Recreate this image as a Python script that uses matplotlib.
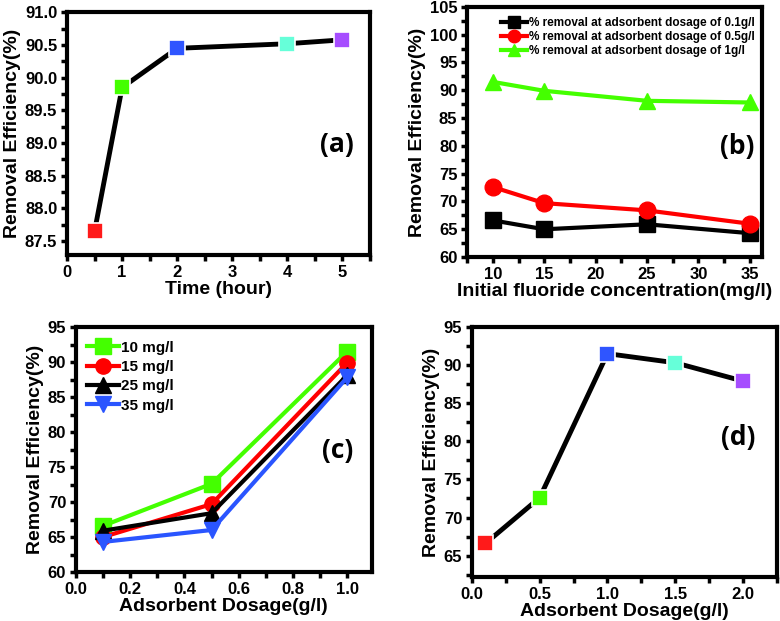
import matplotlib.pyplot as plt
from matplotlib.ticker import MultipleLocator

plt.rcParams['font.family'] = ['Liberation Sans', 'DejaVu Sans']
plt.rcParams['font.weight'] = 'bold'

# (a) time study
time_h = [0.5, 1, 2, 4, 5]
eff_time = [87.65, 89.85, 90.45, 90.52, 90.58]

# (b) initial fluoride concentration
conc = [10, 15, 25, 35]
eff_01 = [66.6, 65.0, 65.9, 64.3]
eff_05 = [72.6, 69.7, 68.4, 66.0]
eff_1 = [91.5, 89.9, 88.1, 87.8]

# (c) dosage for each concentration
dose_c = [0.1, 0.5, 1.0]
eff_10 = [66.6, 72.6, 91.5]
eff_15 = [65.0, 69.7, 89.9]
eff_25 = [65.9, 68.4, 88.1]
eff_35 = [64.3, 66.0, 87.8]

# (d) adsorbent dosage
dose_d = [0.1, 0.5, 1.0, 1.5, 2.0]
eff_dose = [66.6, 72.6, 91.5, 90.3, 87.9]

sq_colors = ['#ff1a1a', '#44ff00', '#2f55ff', '#66ffd9', '#a64dff']


def style_ax(ax, xlabel, ylabel, xmaj, xmin, ymaj, ymin):
    for s in ax.spines.values():
        s.set_linewidth(3)
    ax.xaxis.set_major_locator(MultipleLocator(xmaj))
    ax.xaxis.set_minor_locator(MultipleLocator(xmin))
    ax.yaxis.set_major_locator(MultipleLocator(ymaj))
    ax.yaxis.set_minor_locator(MultipleLocator(ymin))
    ax.tick_params(which='both', direction='out', length=4, width=2.5,
                   top=False, right=False, labelsize=12, pad=3)
    for lab in ax.get_xticklabels() + ax.get_yticklabels():
        lab.set_fontweight('bold')
    ax.set_xlabel(xlabel, fontsize=14, fontweight='bold', labelpad=1)
    ax.set_ylabel(ylabel, fontsize=14, fontweight='bold', labelpad=3)


def panel_label(ax, txt, x, y):
    ax.text(x, y, txt, transform=ax.transAxes, fontsize=19, fontweight='bold',
            family=['Open Sans', 'DejaVu Sans'], ha='center', va='center')


fig = plt.figure(figsize=(7.8, 6.21), dpi=100)

# panel (a)
ax1 = fig.add_axes([0.086, 0.589, 0.388, 0.391])
ax1.plot(time_h, eff_time, color='black', lw=3.5, zorder=1)
for xv, yv, c in zip(time_h, eff_time, sq_colors):
    ax1.plot(xv, yv, 's', color=c, ms=12, mec='white', mew=1.2, zorder=2)
ax1.set_xlim(0, 5.5)
ax1.set_ylim(87.28, 91.0)
style_ax(ax1, 'Time (hour)', 'Removal Efficiency(%)', 1, 0.5, 0.5, 0.25)
panel_label(ax1, '(a)', 0.89, 0.457)

# panel (b)
ax2 = fig.add_axes([0.599, 0.586, 0.378, 0.403])
ax2.plot(conc, eff_01, '-s', color='black', lw=3, ms=11,
         label='% removal at adsorbent dosage of 0.1g/l')
ax2.plot(conc, eff_05, '-o', color='#ff0000', lw=3, ms=12,
         label='% removal at adsorbent dosage of 0.5g/l')
ax2.plot(conc, eff_1, '-^', color='#44ff00', lw=3, ms=12,
         label='% removal at adsorbent dosage of 1g/l')
ax2.set_xlim(7.5, 36.2)
ax2.set_ylim(60, 105)
style_ax(ax2, 'Initial fluoride concentration(mg/l)', 'Removal Efficiency(%)',
         5, 2.5, 5, 2.5)
ax2.legend(loc='upper left', bbox_to_anchor=(0.08, 1.0), frameon=False,
           prop={'size': 8.5, 'weight': 'bold'}, handlelength=2.2,
           handletextpad=0.1, labelspacing=0.15, markerscale=0.75)
panel_label(ax2, '(b)', 0.915, 0.44)

# panel (c)
ax3 = fig.add_axes([0.0974, 0.0789, 0.379, 0.3945])
ax3.plot(dose_c, eff_10, '-s', color='#44ff00', lw=3, ms=11, label='10 mg/l')
ax3.plot(dose_c, eff_15, '-o', color='#ff0000', lw=3, ms=11, label='15 mg/l')
ax3.plot(dose_c, eff_25, '-^', color='black', lw=3, ms=11, label='25 mg/l')
ax3.plot(dose_c, eff_35, '-v', color='#2a55ff', lw=3, ms=11, label='35 mg/l')
ax3.set_xlim(0, 1.09)
ax3.set_ylim(60, 95)
style_ax(ax3, 'Adsorbent Dosage(g/l)', 'Removal Efficiency(%)', 0.2, 0.1, 5, 2.5)
ax3.legend(loc='upper left', bbox_to_anchor=(-0.01, 1.0), frameon=False,
           prop={'size': 11, 'weight': 'bold'}, handlelength=2.1,
           handletextpad=0.15, labelspacing=0.35)
panel_label(ax3, '(c)', 0.885, 0.498)

# panel (d)
ax4 = fig.add_axes([0.605, 0.0709, 0.391, 0.4026])
ax4.plot(dose_d, eff_dose, color='black', lw=3.5, zorder=1)
for xv, yv, c in zip(dose_d, eff_dose, sq_colors):
    ax4.plot(xv, yv, 's', color=c, ms=12, mec='white', mew=1.2, zorder=2)
ax4.set_xlim(0, 2.25)
ax4.set_ylim(62.2, 95)
style_ax(ax4, 'Adsorbent Dosage(g/l)', 'Removal Efficiency(%)', 0.5, 0.25, 5, 2.5)
panel_label(ax4, '(d)', 0.872, 0.556)

fig.savefig('out.png', dpi=100)
